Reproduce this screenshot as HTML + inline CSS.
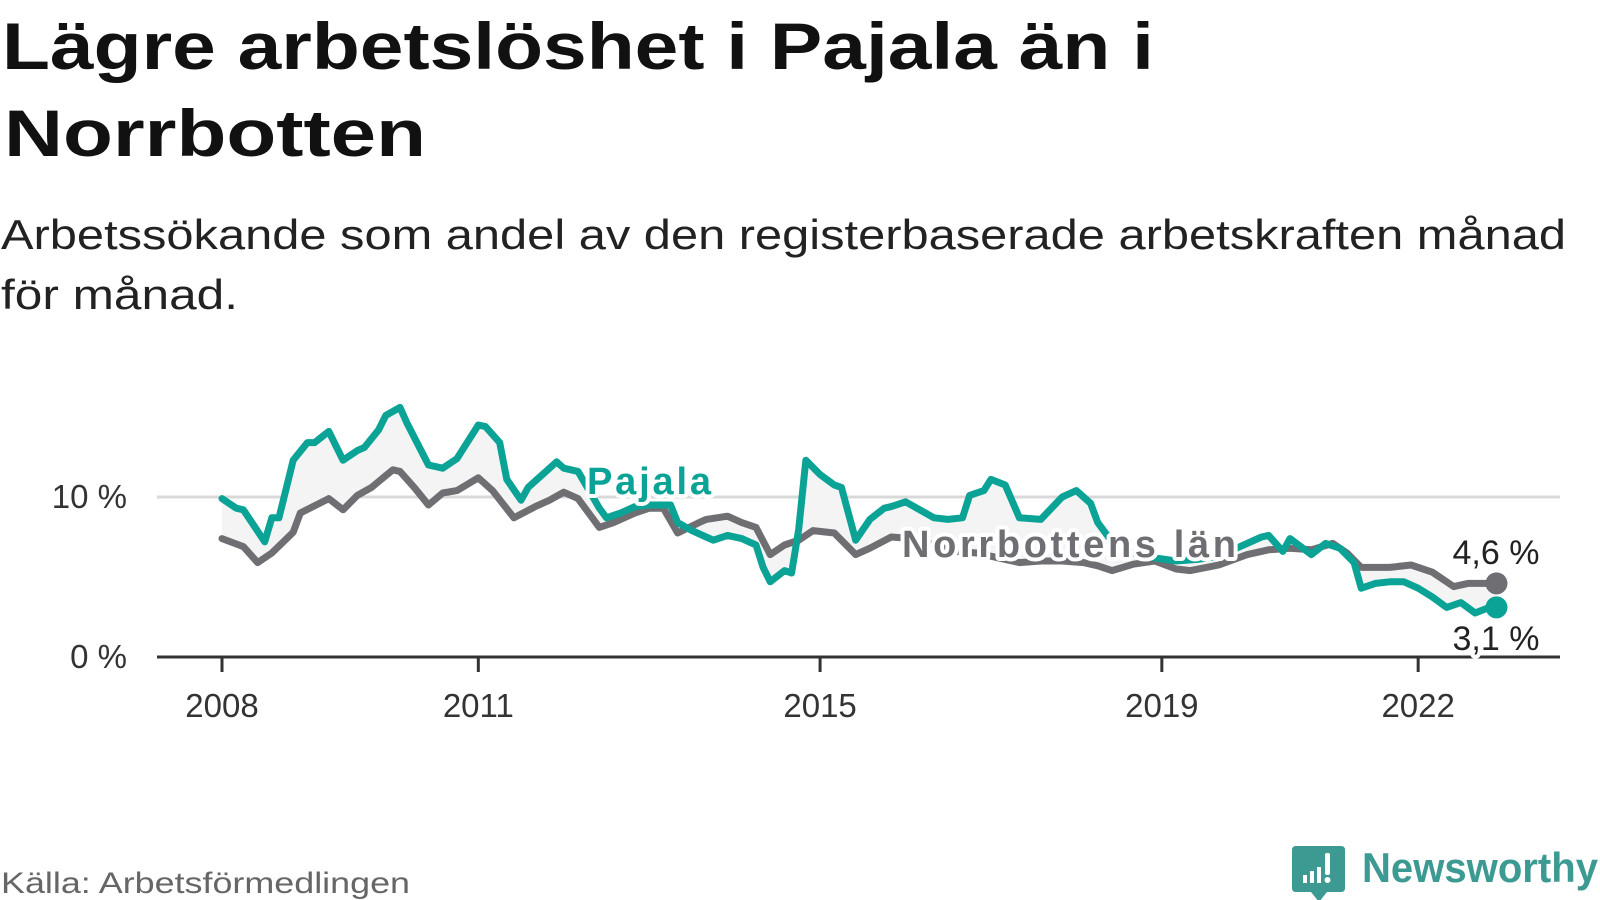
<!DOCTYPE html>
<html><head><meta charset="utf-8"><style>
html,body{margin:0;padding:0;background:#fff;}
svg{display:block;font-family:"Liberation Sans",sans-serif;}
</style></head><body>
<svg id="chart" width="1600" height="900" viewBox="0 0 1600 900">
<text x="2" y="69" font-size="66" font-weight="bold" fill="#111" textLength="1152" lengthAdjust="spacingAndGlyphs">Lägre arbetslöshet i Pajala än i</text>
<text x="4" y="156" font-size="66" font-weight="bold" fill="#111" textLength="422" lengthAdjust="spacingAndGlyphs">Norrbotten</text>
<text x="1" y="249" font-size="42" fill="#222" textLength="1565" lengthAdjust="spacingAndGlyphs">Arbetssökande som andel av den registerbaserade arbetskraften månad</text>
<text x="1" y="309" font-size="42" fill="#222" textLength="237" lengthAdjust="spacingAndGlyphs">för månad.</text>
<g id="plot"></g>
<text x="1" y="893" font-size="30" fill="#666" textLength="409" lengthAdjust="spacingAndGlyphs">Källa: Arbetsförmedlingen</text>
<g>
<path d="M1296 846 h45 q4 0 4 4 v38 q0 4 -4 4 h-14 l-8 10 l-8 -10 h-15 q-4 0 -4 -4 v-38 q0 -4 4 -4z" fill="#3d9a93"/>
<rect x="1303" y="875" width="4" height="8" fill="#fff"/><rect x="1310" y="871" width="4" height="12" fill="#fff"/><rect x="1317" y="867" width="4" height="16" fill="#fff"/><rect x="1325" y="853" width="5" height="22" rx="2" fill="#fff"/><circle cx="1327.5" cy="880" r="3" fill="#fff"/>
<text x="1362" y="882" font-size="42" font-weight="bold" fill="#3d9a93" textLength="236" lengthAdjust="spacingAndGlyphs">Newsworthy</text>
</g>
</svg>
<script>
const yTicks = [0, 10];
const yTickLabels = ["0 %", "10 %"];
const xTickMonths = [0, 36, 84, 132, 168];
const xTickLabels = ["2008", "2011", "2015", "2019", "2022"];
const pajalaMonths = [0,2,3,6,7,8,10,12,13,15,17,19,20,22,23,25,26,29,31,33,36,37,39,40,42,43,45,47,48,50,53,54,56,58,60,62,63,64,66,68,69,71,73,75,76,77,79,80,81,82,84,86,87,89,91,93,94,96,98,100,102,104,105,107,108,110,112,115,118,120,122,123,125,128,131,134,137,140,143,146,147,149,150,153,155,157,159,160,162,164,166,168,170,172,174,176,178,179];
const pajalaValues = [9.9,9.3,9.2,7.2,8.7,8.7,12.3,13.4,13.4,14.1,12.3,12.9,13.1,14.2,15.1,15.6,14.6,12.0,11.8,12.4,14.5,14.4,13.4,11.1,9.8,10.6,11.4,12.2,11.8,11.6,9.3,8.7,9.0,9.4,9.5,9.5,9.5,8.4,7.9,7.5,7.3,7.6,7.4,7.0,5.6,4.7,5.4,5.25,8.0,12.3,11.4,10.75,10.6,7.3,8.6,9.3,9.4,9.7,9.2,8.7,8.6,8.7,10.1,10.4,11.1,10.75,8.7,8.6,10.0,10.4,9.6,8.4,7.2,6.5,6.2,6.0,6.1,6.3,6.9,7.5,7.6,6.6,7.4,6.4,7.1,6.8,5.9,4.3,4.6,4.7,4.7,4.3,3.75,3.1,3.4,2.75,3.1,3.1];
const norrMonths = [0,3,5,7,10,11,15,17,19,21,24,25,27,29,31,33,36,38,41,44,46,48,50,53,55,58,60,62,64,67,68,71,73,75,77,79,81,83,86,89,91,94,97,100,103,106,109,112,115,118,121,123,125,128,131,134,136,140,144,147,150,153,156,158,160,164,167,170,173,175,179];
const norrValues = [7.4,6.9,5.9,6.5,7.8,9.0,9.9,9.2,10.1,10.6,11.7,11.6,10.6,9.5,10.25,10.4,11.2,10.4,8.7,9.4,9.8,10.3,9.9,8.1,8.4,9.0,9.3,9.3,7.75,8.4,8.6,8.8,8.4,8.1,6.4,7.0,7.3,7.9,7.75,6.4,6.8,7.5,7.4,7.0,6.6,6.5,6.2,5.9,6.0,6.0,5.9,5.7,5.4,5.8,6.0,5.5,5.4,5.75,6.4,6.7,6.8,6.7,7.1,6.5,5.6,5.6,5.75,5.3,4.4,4.6,4.6];
const endLabels = ["4,6 %", "3,1 %"];

const NS = "http://www.w3.org/2000/svg";
const plot = document.getElementById("plot");
const x = m => 222 + m * 7.12;
const y = v => 657 - v * 16;
function mk(tag, attrs, parent) {
  const e = document.createElementNS(NS, tag);
  for (const k in attrs) e.setAttribute(k, attrs[k]);
  (parent || plot).appendChild(e);
  return e;
}
yTicks.forEach((t, i) => {
  if (t !== 0) {
    const g = mk("line", {x1: 157, x2: 1560, y1: y(t), y2: y(t), stroke: "#d9d9d9", "stroke-width": 3});
    
    
  }
  const lb = mk("text", {x: 127, y: y(t) + 11, "font-size": 33, fill: "#333", "text-anchor": "end"});
  lb.textContent = yTickLabels[i];
  
  
});
const pts = pajalaMonths.map((m, i) => x(m) + "," + y(pajalaValues[i]))
  .concat(norrMonths.slice().reverse().map((m, i) => x(m) + "," + y(norrValues[norrValues.length - 1 - i])));
const area = mk("polygon", {points: pts.join(" "), fill: "#f4f4f5"});


const ax = mk("line", {x1: 157, x2: 1560, y1: 657, y2: 657, stroke: "#333", "stroke-width": 3});


xTickMonths.forEach((m, i) => {
  const tk = mk("line", {x1: x(m), x2: x(m), y1: 657, y2: 672, stroke: "#333", "stroke-width": 3});
  
  
  const lb = mk("text", {x: x(m), y: 717, "font-size": 33, fill: "#333", "text-anchor": "middle"});
  lb.textContent = xTickLabels[i];
  
  
});
function line(ms, vs, color, name) {
  const p = mk("polyline", {points: ms.map((m, i) => x(m) + "," + y(vs[i])).join(" "), fill: "none", stroke: color, "stroke-width": 7, "stroke-linejoin": "round", "stroke-linecap": "round"});
  
  
}
line(norrMonths, norrValues, "#6f6e73", "norrbotten-line");
line(pajalaMonths, pajalaValues, "#0aa396", "pajala-line");
const d1 = mk("circle", {cx: x(norrMonths[norrMonths.length - 1]), cy: y(norrValues[norrValues.length - 1]), r: 11, fill: "#6f6e73"});


const d2 = mk("circle", {cx: x(pajalaMonths[pajalaMonths.length - 1]), cy: y(pajalaValues[pajalaValues.length - 1]), r: 11, fill: "#0aa396"});


function label(txt, xx, yy, color, bold, name, anchor) {
  const t = mk("text", {x: xx, y: yy, "font-size": bold ? 38 : 34, "font-weight": bold ? "bold" : "normal", fill: color, stroke: "#fff", "stroke-width": 8, "paint-order": "stroke", "stroke-linejoin": "round", "text-anchor": anchor || "start"});
  t.textContent = txt;
  
  
  return t;
}
const lp = label("Pajala", 587, 494, "#0aa396", true, "pajala-series-label");
lp.setAttribute("textLength", 124);
const ln = label("Norrbottens län", 902, 557, "#6f6e73", true, "norrbotten-series-label");
ln.setAttribute("textLength", 334);
label(endLabels[0], 1496, 564, "#222", false, "norrbotten-end-value", "middle");
label(endLabels[1], 1496, 650, "#222", false, "pajala-end-value", "middle");
</script>
</body></html>
